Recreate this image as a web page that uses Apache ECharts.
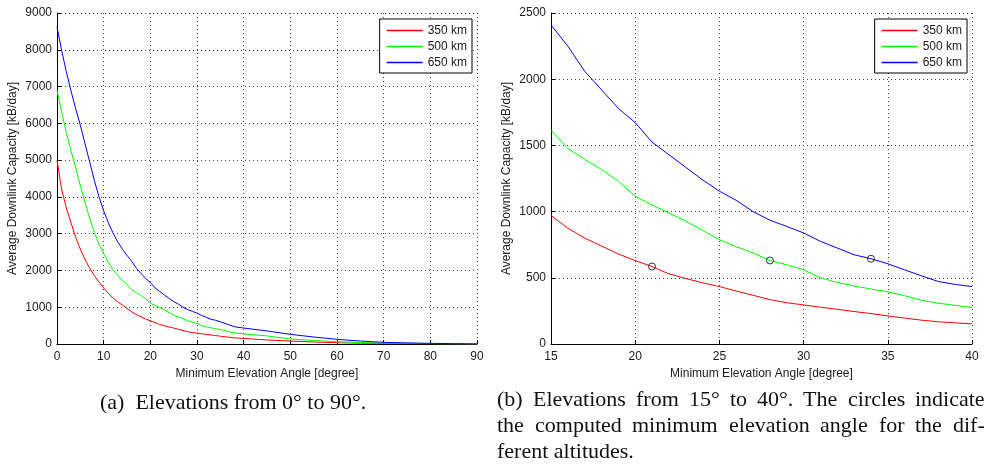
<!DOCTYPE html>
<html>
<head>
<meta charset="utf-8">
<script src="https://cdn.jsdelivr.net/npm/echarts@6/dist/echarts.min.js"></script>
<style>
  html, body { margin: 0; padding: 0; background: #fff; }
  #chart { width: 988px; height: 466px; }
</style>
</head>
<body>
<div id="chart"></div>
<script>
// elevation angles [degree] the curves were read at
const angles = [0, 1, 2, 3, 4, 5, 6, 7, 8, 9, 10, 11, 12, 13, 14, 15, 16, 17, 18, 19, 20,
  21, 22, 23, 24, 25, 26, 27, 28, 29, 30, 31, 32, 33, 34, 35, 36, 37, 38, 39, 40,
  45, 50, 55, 60, 65, 70, 75, 80, 85, 90]

// average downlink capacity [kB/day]
const cap350 = [5000, 4200, 3700, 3300, 2900, 2580, 2300, 2060, 1860, 1680, 1520, 1380, 1250, 1150, 1060, 970,
  875, 800, 740, 680, 630, 585, 530, 495, 462, 434, 400, 368, 335, 312, 295, 278, 262, 245, 230, 212,
  196, 180, 168, 160, 152, 110, 80, 55, 35, 22, 15, 10, 8, 6, 0]
const cap500 = [6900, 6300, 5750, 5250, 4800, 4300, 3850, 3420, 3040, 2720, 2460, 2220, 2020, 1870, 1730, 1615,
  1477, 1395, 1318, 1230, 1116, 1050, 990, 928, 858, 788, 735, 688, 631, 598, 561, 500, 465, 439, 415, 394,
  365, 330, 308, 292, 275, 220, 136, 95, 63, 40, 25, 15, 10, 5, 0]
const cap650 = [8620, 7980, 7400, 6880, 6400, 5950, 5450, 4950, 4450, 4000, 3620, 3300, 3020, 2780, 2580, 2410,
  2250, 2060, 1920, 1780, 1672, 1525, 1430, 1335, 1240, 1154, 1085, 1000, 935, 888, 839, 775, 725, 674, 644, 606,
  560, 515, 472, 450, 434, 355, 263, 190, 127, 80, 46, 30, 18, 8, 0]

const seriesNames = ['350 km', '500 km', '650 km']
const seriesColors = ['#ff0000', '#00ff00', '#0000ff']
// computed minimum elevation angle for each altitude (circles in b)
const minAngles = [21, 28, 34]

const captionA = '(a)  Elevations from 0° to 90°.'
const captionB = [
  '(b) Elevations from 15° to 40°. The circles indicate',
  'the computed minimum elevation angle for the dif-',
  'ferent altitudes.'
]

const allCaps = [cap350, cap500, cap650]

function pairs (ys, lo, hi) {
  return angles.map((a, i) => [a, ys[i]]).filter(p => p[0] >= lo && p[0] <= hi)
}

const sans = '"Liberation Sans", Arial, sans-serif'
const txt = '#1a1a1a'
const dots = { color: '#444', type: [1, 3], width: 1 }

function xAxis (idx, min, max, step) {
  return {
    type: 'value', gridIndex: idx, min: min, max: max, interval: step,
    name: 'Minimum Elevation Angle [degree]', nameLocation: 'middle', nameGap: 20,
    nameTextStyle: { fontFamily: sans, fontSize: 12, color: txt },
    axisLine: { onZero: false, lineStyle: { color: '#000', width: 1 } },
    axisTick: { inside: true, length: 4, lineStyle: { color: '#000' } },
    axisLabel: { fontFamily: sans, fontSize: 12, color: txt, margin: 7 },
    splitLine: { show: true, lineStyle: dots }
  }
}
function yAxis (idx, max, step) {
  return {
    type: 'value', gridIndex: idx, min: 0, max: max, interval: step,
    name: 'Average Downlink Capacity [kB/day]', nameLocation: 'middle', nameGap: 38,
    nameTextStyle: { fontFamily: sans, fontSize: 12, color: txt },
    axisLine: { show: true, lineStyle: { color: '#000', width: 1 } },
    axisTick: { show: true, inside: true, length: 4, lineStyle: { color: '#000' } },
    axisLabel: { fontFamily: sans, fontSize: 12, color: txt, margin: 5, formatter: v => String(v) },
    splitLine: { show: true, lineStyle: dots }
  }
}
function legend (right) {
  return {
    data: seriesNames.map(n => ({ name: n, icon: 'rect' })),
    orient: 'vertical', right: right, top: 19,
    backgroundColor: '#fff', borderColor: '#000', borderWidth: 1,
    padding: [4, 5, 3, 7], itemGap: 1, itemWidth: 36, itemHeight: 1.5,
    textStyle: { fontFamily: sans, fontSize: 12, color: txt, lineHeight: 15 },
    selectedMode: false
  }
}

const series = []
seriesNames.forEach((name, k) => {
  // (a) 0..90
  series.push({
    name: name, type: 'line', xAxisIndex: 0, yAxisIndex: 0, data: pairs(allCaps[k], 0, 90),
    symbol: 'none', lineStyle: { color: seriesColors[k], width: 1 }, itemStyle: { color: seriesColors[k] },
    animation: false, z: 3
  })
  // (b) 15..40
  series.push({
    name: name, type: 'line', xAxisIndex: 1, yAxisIndex: 1, data: pairs(allCaps[k], 15, 40),
    symbol: 'none', lineStyle: { color: seriesColors[k], width: 1 }, itemStyle: { color: seriesColors[k] },
    animation: false, z: 3
  })
})
// circles on the curves at the minimum elevation angles
series.push({
  type: 'scatter', xAxisIndex: 1, yAxisIndex: 1,
  data: minAngles.map((a, k) => [a, allCaps[k][angles.indexOf(a)]]),
  symbol: 'circle', symbolSize: 7,
  itemStyle: { color: 'rgba(0,0,0,0)', borderColor: '#000', borderWidth: 1 },
  animation: false, z: 5
})

// captions, latex style (the b lines are justified word by word)
const serifFont = '22px "Liberation Serif", "DejaVu Serif", serif'
const measure = document.createElement('canvas').getContext('2d')
measure.font = serifFont
const graphic = [{
  type: 'text', left: 100, top: 392,
  style: { text: captionA, font: serifFont, fill: '#111' }
}]
const capLeft = 497
const capRight = 985
captionB.forEach((line, i) => {
  const top = 389 + i * 26
  if (i === captionB.length - 1) {
    graphic.push({ type: 'text', left: capLeft, top: top, style: { text: line, font: serifFont, fill: '#111' } })
    return
  }
  const words = line.split(' ')
  const widths = words.map(w => measure.measureText(w).width)
  const gap = (capRight - capLeft - widths.reduce((s, w) => s + w, 0)) / (words.length - 1)
  let x = capLeft
  words.forEach((w, j) => {
    graphic.push({ type: 'text', left: Math.round(x), top: top, style: { text: w, font: serifFont, fill: '#111' } })
    x += widths[j] + gap
  })
})

const myChart = echarts.init(document.getElementById('chart'), null, { renderer: 'canvas' })
myChart.setOption({
  backgroundColor: '#fff',
  animation: false,
  grid: [
    { left: 57, right: 511, top: 13, bottom: 122 },
    { left: 551, right: 16, top: 13, bottom: 122 }
  ],
  xAxis: [xAxis(0, 0, 90, 10), xAxis(1, 15, 40, 5)],
  yAxis: [yAxis(0, 9000, 1000), yAxis(1, 2500, 500)],
  legend: [legend(516), legend(21)],
  series: series,
  graphic: graphic
})
</script>
</body>
</html>
